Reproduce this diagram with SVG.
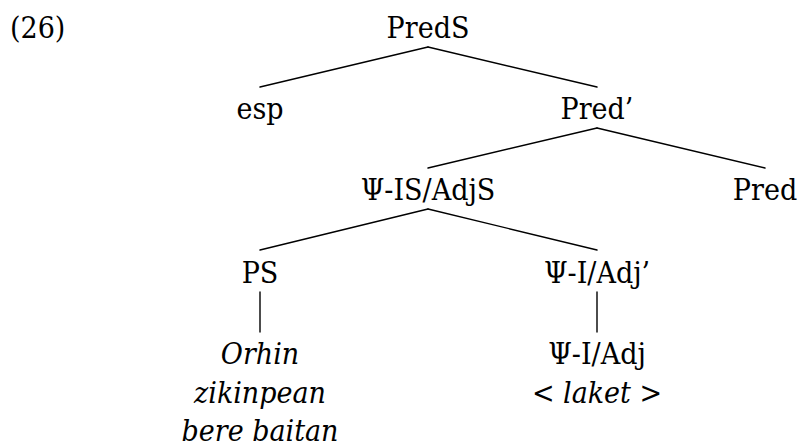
<svg xmlns="http://www.w3.org/2000/svg" width="799" height="448" viewBox="0 0 799 448">
<style>
text{font-family:"DejaVu Serif Condensed","DejaVu Serif",serif;font-stretch:condensed;font-size:30px;fill:#000;text-anchor:middle}
.it{font-style:italic}
.edge{stroke:#000;stroke-width:1.4;fill:none;stroke-linecap:round}
</style>
<rect width="799" height="448" fill="#fff"/>
<text x="10" y="38" style="text-anchor:start">(26)</text>
<g id="edges">
<line class="edge" x1="428" y1="47" x2="260" y2="87"/>
<line class="edge" x1="428" y1="47" x2="597" y2="87"/>
<line class="edge" x1="597" y1="128" x2="428" y2="168"/>
<line class="edge" x1="597" y1="128" x2="765" y2="168"/>
<line class="edge" x1="428" y1="209" x2="260" y2="250"/>
<line class="edge" x1="428" y1="209" x2="597" y2="250"/>
<line class="edge" x1="260" y1="292" x2="260" y2="332"/>
<line class="edge" x1="597" y1="292" x2="597" y2="332"/>
</g>
<g id="PredS"><text x="428" y="38">PredS</text></g>
<g id="esp"><text x="260" y="119">esp</text></g>
<g id="PredBar"><text x="597" y="119">Pred’</text></g>
<g id="PsiISAdjS"><text x="428" y="200">Ψ-IS/AdjS</text></g>
<g id="Pred"><text x="765" y="200">Pred</text></g>
<g id="PS"><text x="260" y="283">PS</text></g>
<g id="PsiIAdjBar"><text x="597" y="283">Ψ-I/Adj’</text></g>
<g id="PSleaf">
<text x="260" y="364" class="it">Orhin</text>
<text x="260" y="403" class="it">zikinpean</text>
<text x="260" y="441" class="it">bere baitan</text>
</g>
<g id="PsiIAdj">
<text x="597" y="364">Ψ-I/Adj</text>
<text x="597" y="403">&lt; <tspan class="it">laket</tspan> &gt;</text>
</g>
</svg>
